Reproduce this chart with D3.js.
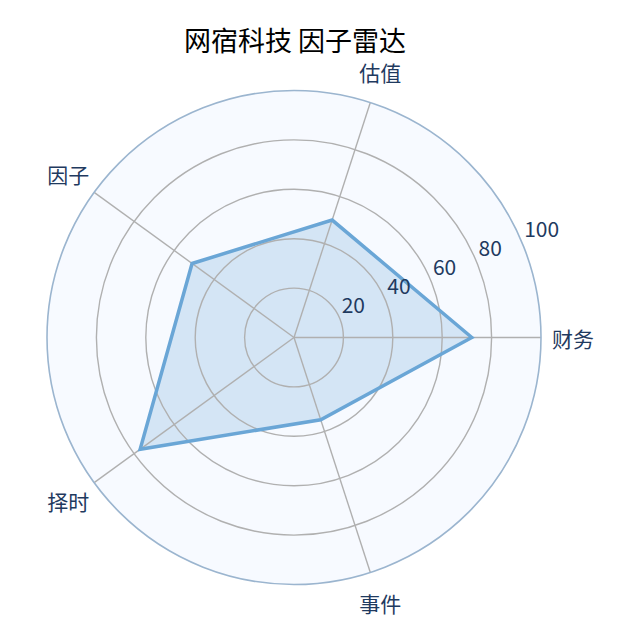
<!DOCTYPE html>
<html>
<head>
<meta charset="utf-8">
<script src="https://cdn.jsdelivr.net/npm/d3@7"></script>
<style>
  body { margin: 0; background: #fff; }
  text { font-family: "Noto Sans CJK SC", "Noto Sans", sans-serif; }
</style>
</head>
<body>
<div id="chart"></div>
<script>
    const WIDTH = 640;
    const HEIGHT = 640;
    const CX = 294;
    const CY = 337.5;
    const R = 247;

    // data
    const axes = ["财务", "估值", "因子", "择时", "事件"];
    const scores = [72, 50, 51, 77, 35];
    const ticks = [20, 40, 60, 80, 100];
    const title = "网宿科技 因子雷达";

    const LABEL_COLOR = "#1f3a5f";

    var svg = d3.select("#chart").append("svg")
        .attr("width", WIDTH)
        .attr("height", HEIGHT);

    var r = d3.scaleLinear().domain([0, 100]).range([0, R]);
    // angle in radians, counter-clockwise from east
    var angle = d3.scaleLinear().domain([0, axes.length]).range([0, 2 * Math.PI]);

    function px(i, v) { return CX + r(v) * Math.cos(angle(i)); }
    function py(i, v) { return CY - r(v) * Math.sin(angle(i)); }

    var g = svg.append("g");

    // background disc
    g.append("circle")
        .attr("cx", CX).attr("cy", CY).attr("r", r(100))
        .attr("fill", "#f7faff");

    // polygon fill
    var pts = scores.map(function(v, i) { return [px(i, v), py(i, v)]; });
    var line = d3.line().curve(d3.curveLinearClosed);

    g.append("path")
        .attr("d", line(pts))
        .attr("fill", "#6aa6d6")
        .attr("fill-opacity", 0.25)
        .attr("stroke", "none");

    // grid circles
    ticks.filter(function(t) { return t < 100; }).forEach(function(t) {
        g.append("circle")
            .attr("cx", CX).attr("cy", CY).attr("r", r(t))
            .attr("fill", "none")
            .attr("stroke", "#b0b0b0")
            .attr("stroke-width", 1.4);
    });

    // spokes
    axes.forEach(function(a, i) {
        g.append("line")
            .attr("x1", CX).attr("y1", CY)
            .attr("x2", px(i, 100)).attr("y2", py(i, 100))
            .attr("stroke", "#b0b0b0")
            .attr("stroke-width", 1.4);
    });

    // outer spine
    g.append("circle")
        .attr("cx", CX).attr("cy", CY).attr("r", r(100))
        .attr("fill", "none")
        .attr("stroke", "#9bb5cf")
        .attr("stroke-width", 1.6);

    // polygon outline
    g.append("path")
        .attr("d", line(pts))
        .attr("fill", "none")
        .attr("stroke", "#6aa6d6")
        .attr("stroke-width", 3.5)
        .attr("stroke-linejoin", "miter");

    // radial tick labels at 22.5 deg
    var tickAng = 22.5 * Math.PI / 180;
    ticks.forEach(function(t) {
        g.append("text")
            .attr("x", CX + r(t) * Math.cos(tickAng) + 2)
            .attr("y", CY - r(t) * Math.sin(tickAng) - 6)
            .attr("font-size", 21)
            .attr("fill", LABEL_COLOR)
            .text(t);
    });

    // axis labels
    axes.forEach(function(a, i) {
        var rr = R + 32;
        g.append("text")
            .attr("x", CX + rr * Math.cos(angle(i)))
            .attr("y", CY - rr * Math.sin(angle(i)))
            .attr("text-anchor", "middle")
            .attr("dominant-baseline", "central")
            .attr("font-size", 21)
            .attr("fill", LABEL_COLOR)
            .text(a);
    });

    // title
    svg.append("text")
        .attr("x", 295)
        .attr("y", 51)
        .attr("text-anchor", "middle")
        .attr("font-size", 27)
        .attr("fill", "#000")
        .text(title);
</script>
</body>
</html>
